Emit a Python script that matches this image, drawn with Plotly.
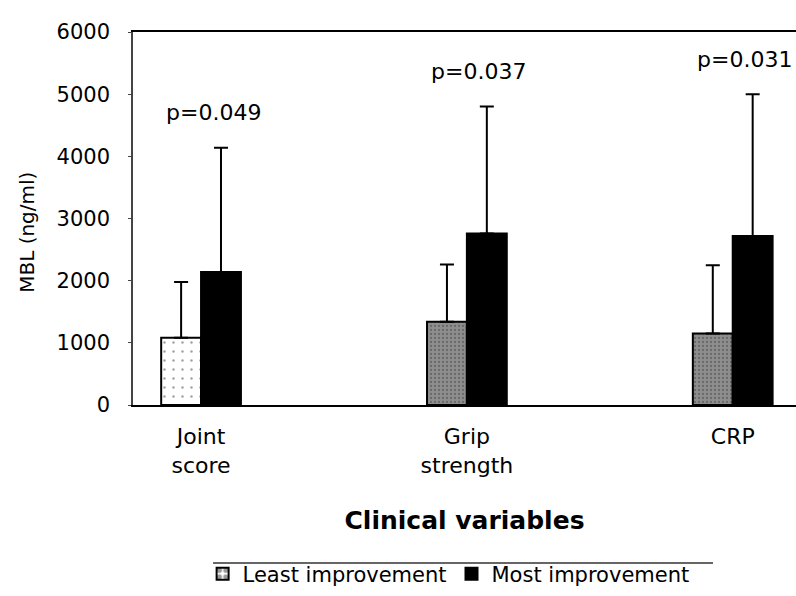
import plotly.graph_objects as go

categories = ["Joint<br>score", "Grip<br>strength", "CRP"]
series_names = ["Least improvement", "Most improvement"]
least_mean = [1080, 1340, 1150]
least_err = [900, 920, 1100]
most_mean = [2140, 2760, 2720]
most_err = [2000, 2040, 2280]
p_values = ["p=0.049", "p=0.037", "p=0.031"]
y_ticks = [0, 1000, 2000, 3000, 4000, 5000, 6000]

FONT = "DejaVu Sans"
xs = list(range(len(categories)))

fig = go.Figure()
fig.add_trace(go.Bar(
    x=xs, y=least_mean, name=series_names[0],
    marker=dict(
        color=["white", "#8e8e8e", "#8e8e8e"],
        line=dict(color="black", width=2),
        pattern=dict(shape=".", fgcolor=["#333333", "#d0d0d0", "#d0d0d0"],
                     size=[9, 4, 4], solidity=[0.06, 0.25, 0.25],
                     fillmode="overlay"),
    ),
    error_y=dict(type="data", symmetric=False, array=least_err,
                 arrayminus=[0] * len(least_err), color="black", thickness=2, width=7),
))
fig.add_trace(go.Bar(
    x=xs, y=most_mean, name=series_names[1],
    marker=dict(color="black", line=dict(color="black", width=2)),
    error_y=dict(type="data", symmetric=False, array=most_err,
                 arrayminus=[0] * len(most_err), color="black", thickness=2, width=7),
))

# p-value labels above the "most improvement" error bars
for i, p in enumerate(p_values):
    fig.add_annotation(x=i + 0.045, y=most_mean[i] + most_err[i] + 560, text=p,
                       showarrow=False, xref="x", yref="y", yanchor="middle",
                       font=dict(family=FONT, size=22, color="black"))

# y-axis title (placed as annotation to match the original's vertical offset)
fig.add_annotation(x=-0.16, y=0.464, xref="paper", yref="paper", text="MBL (ng/ml)",
                   textangle=-90, showarrow=False, xanchor="center", yanchor="middle",
                   font=dict(family=FONT, size=20, color="black"))

# line above the legend
fig.add_shape(type="line", xref="paper", yref="paper",
              x0=0.1207, x1=0.8748, y0=-0.4236, y1=-0.4236,
              line=dict(color="#333333", width=1.5))

fig.update_layout(
    width=796, height=596,
    margin=dict(l=133, r=0, t=32, b=191),
    paper_bgcolor="white", plot_bgcolor="white",
    barmode="group", bargap=0.7, bargroupgap=0,
    font=dict(family=FONT, color="black"),
    showlegend=True,
    legend=dict(orientation="h", x=0.105, y=-0.508, xanchor="left", yanchor="bottom",
                font=dict(family=FONT, size=21, color="black"),
                bgcolor="rgba(0,0,0,0)", itemclick=False, tracegroupgap=0),
    xaxis=dict(
        range=[-0.256, 2.238], tickmode="array", tickvals=xs, ticktext=categories,
        showline=True, linecolor="black", linewidth=2, mirror=True,
        showgrid=False, zeroline=False, ticks="",
        tickfont=dict(family=FONT, size=22, color="black"),
        ticklabelstandoff=11,
        title=dict(text="<b>Clinical variables</b>", standoff=34,
                   font=dict(family=FONT, size=25, color="black")),
        automargin=False,
    ),
    yaxis=dict(
        range=[0, 6000], tickmode="array", tickvals=y_ticks,
        showline=True, linecolor="#444444", linewidth=1.5, mirror=False,
        showgrid=False, zeroline=False, ticks="outside", ticklen=3, tickcolor="#444444",
        tickfont=dict(family=FONT, size=21, color="black"),
        ticklabelstandoff=14,
        automargin=False,
    ),
)

fig.write_html("out.html")
